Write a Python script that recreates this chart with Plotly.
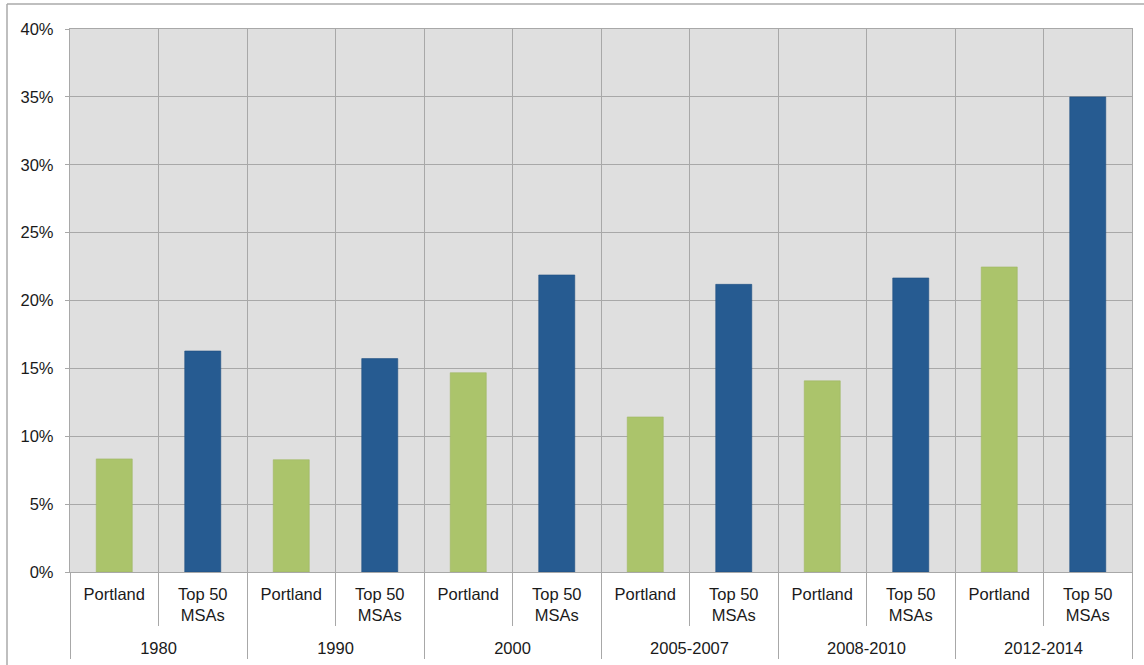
import plotly.graph_objects as go

periods = ["1980", "1990", "2000", "2005-2007", "2008-2010", "2012-2014"]
series_names = ["Portland", "Top 50<br>MSAs"]
portland = [8.33, 8.27, 14.68, 11.42, 14.08, 22.47]
top50 = [16.28, 15.72, 21.88, 21.19, 21.66, 35.0]
y_ticks = [0, 5, 10, 15, 20, 25, 30, 35, 40]

GREEN = "#abc46b"
BLUE = "#265b91"
GRID = "#a8a8a8"
FONT = dict(family="Liberation Sans, Arial, sans-serif", size=16.5, color="#1a1a1a")
BAR_W = 0.407

n_series = len(series_names)
n_cat = len(periods) * n_series
# slot positions on the category scale: group g, series s -> g*n_series + s
pos_portland = [g * n_series + 0 for g in range(len(periods))]
pos_top50 = [g * n_series + 1 for g in range(len(periods))]
inner_centers = list(range(n_cat))
inner_labels = [series_names[i % n_series] for i in range(n_cat)]
inner_bounds = [i - 0.5 for i in range(n_cat + 1)]
group_centers = [g * n_series + (n_series - 1) / 2 for g in range(len(periods))]
group_bounds = [g * n_series - 0.5 for g in range(len(periods) + 1)]
xr = [-0.5, n_cat - 0.5]

fig = go.Figure()
fig.add_trace(go.Bar(
    x=pos_portland, y=portland, width=BAR_W,
    marker=dict(color=GREEN, line=dict(color="#9fb763", width=0.6)),
    name="Portland", showlegend=False, xaxis="x", yaxis="y",
))
fig.add_trace(go.Bar(
    x=pos_top50, y=top50, width=BAR_W,
    marker=dict(color=BLUE, line=dict(color="#1f4f82", width=0.6)),
    name="Top 50 MSAs", showlegend=False, xaxis="x2", yaxis="y",
))

fig.update_layout(
    xaxis=dict(
        range=xr, tickmode="array", tickvals=inner_centers, ticktext=inner_labels,
        ticks="", showgrid=False, zeroline=False, automargin=False,
        ticklabelstandoff=7,
        minor=dict(tickmode="array", tickvals=inner_bounds, ticks="outside", ticklen=53,
                   tickcolor=GRID, tickwidth=1.3, showgrid=True, gridcolor=GRID, gridwidth=1.3),
        showline=True, linecolor=GRID, linewidth=1.3, mirror=True,
        tickfont=FONT,
    ),
    xaxis2=dict(
        overlaying="x", anchor="y", side="bottom", range=xr, automargin=False,
        tickmode="array", tickvals=group_centers, ticktext=periods,
        ticks="", showgrid=False, zeroline=False, showline=False,
        ticklabelstandoff=64,
        minor=dict(tickmode="array", tickvals=group_bounds, ticks="outside", ticklen=86,
                   tickcolor=GRID, tickwidth=1.3, showgrid=False),
        tickfont=FONT,
    ),
    yaxis=dict(
        range=[0, 40], tickvals=y_ticks, ticktext=[f"{v}%" for v in y_ticks],
        showgrid=True, gridcolor=GRID, gridwidth=1.3, automargin=False,
        ticks="outside", ticklen=4, tickcolor=GRID, tickwidth=1.3,
        ticklabelstandoff=8,
        showline=True, linecolor=GRID, linewidth=1.3, mirror=True,
        zeroline=False, tickfont=FONT,
    ),
)

# outer frame (top and left edges only, as in the reference)
x0p = (7 - 70) / 1062
ytop = (572 - 4) / 543
fig.add_shape(type="line", xref="paper", yref="paper", x0=x0p, x1=1.02, y0=ytop, y1=ytop,
              line=dict(color="#aaaaaa", width=1.5))
fig.add_shape(type="line", xref="paper", yref="paper", x0=x0p, x1=x0p, y0=ytop, y1=-0.2,
              line=dict(color="#aaaaaa", width=1.5))

fig.update_layout(
    width=1144, height=665,
    margin=dict(l=70, r=12, t=29, b=93),
    plot_bgcolor="#dfdfdf", paper_bgcolor="white",
    barmode="overlay",
    font=FONT,
)
fig.write_html("out.html")
